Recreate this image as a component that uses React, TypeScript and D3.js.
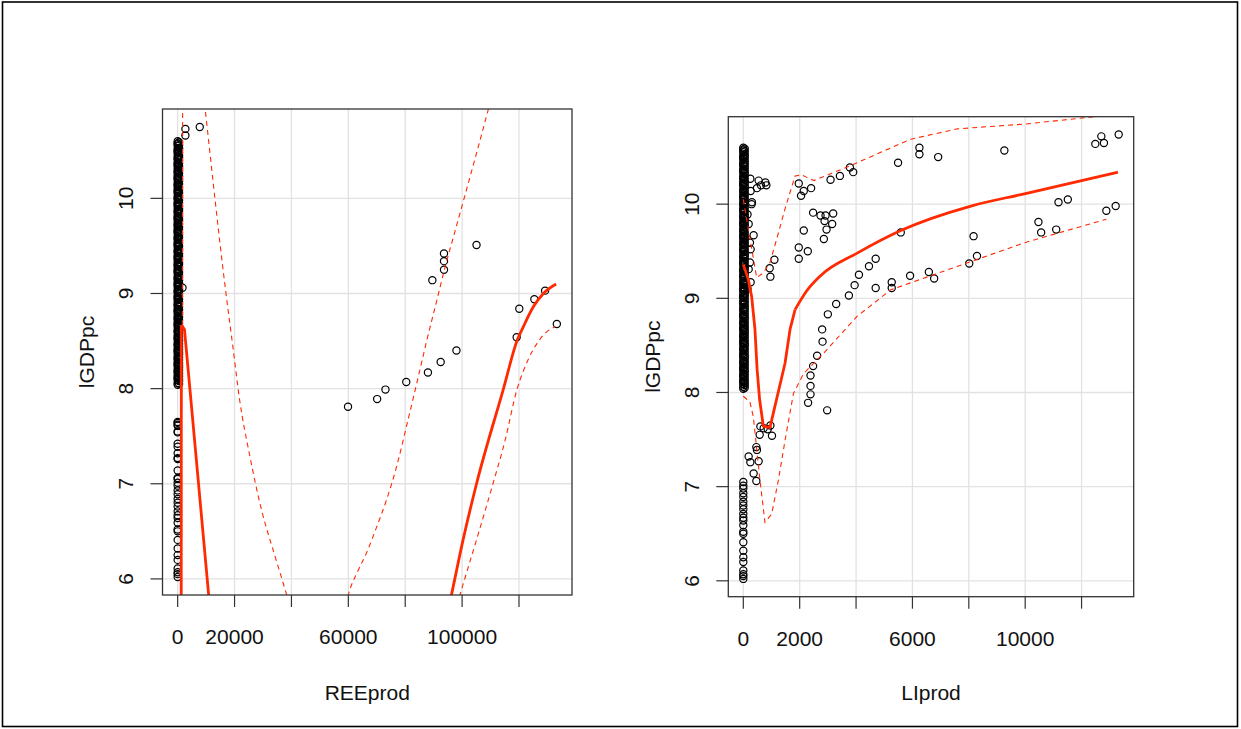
import React from "react";
import * as d3 from "d3";

// ---------- data ----------
const yTicks = [6, 7, 8, 9, 10];

const reeTicks = [0, 20000, 40000, 60000, 80000, 100000, 120000];
const reeTickLabels = ["0", "20000", "", "60000", "", "100000", ""];
const liTicks = [0, 2000, 4000, 6000, 8000, 10000, 12000];
const liTickLabels = ["0", "2000", "", "6000", "", "10000", ""];

// lGDPpc of observations with zero production – dense column
const zeroProdHighY = [
  10.6, 10.58, 10.57, 10.55, 10.52, 10.5, 10.49, 10.47, 10.44, 10.42, 10.41, 10.38, 10.36, 10.35, 10.33,
  10.3, 10.28, 10.27, 10.24, 10.22, 10.21, 10.19, 10.16, 10.14, 10.13, 10.1, 10.08, 10.07, 10.05, 10.02,
  10.0, 9.99, 9.96, 9.94, 9.93, 9.91, 9.88, 9.86, 9.85, 9.82, 9.8, 9.79, 9.77, 9.74, 9.72, 9.71, 9.68,
  9.66, 9.65, 9.63, 9.6, 9.58, 9.57, 9.54, 9.52, 9.51, 9.49, 9.46, 9.44, 9.43, 9.4, 9.38, 9.37, 9.35,
  9.32, 9.3, 9.29, 9.26, 9.24, 9.23, 9.21, 9.18, 9.16, 9.15, 9.12, 9.1, 9.09, 9.07, 9.04, 9.02, 9.01,
  8.98, 8.96, 8.95, 8.93, 8.9, 8.88, 8.87, 8.84, 8.82, 8.81, 8.79, 8.76, 8.74, 8.73, 8.7, 8.68, 8.67,
  8.65, 8.62, 8.6, 8.59, 8.56, 8.54, 8.53, 8.51, 8.48, 8.46, 8.45, 8.42, 8.4, 8.39, 8.37, 8.34, 8.32,
  8.31, 8.28, 8.26, 8.25, 8.23, 8.2, 8.18, 8.17, 8.14, 8.12, 8.11, 8.09, 8.06, 8.04,
];
// lGDPpc of observations with very small production (just right of zero)
const tinyProdHighY = [
  10.59, 10.56, 10.53, 10.51, 10.48, 10.45, 10.43, 10.4, 10.37, 10.34, 10.32, 10.29, 10.26, 10.23,
  10.2, 10.18, 10.15, 10.12, 10.09, 10.06, 10.03, 10.01, 9.98, 9.95, 9.92, 9.89, 9.87, 9.84, 9.81,
  9.78, 9.76, 9.73, 9.7, 9.67, 9.64, 9.62, 9.59, 9.56, 9.53, 9.5, 9.47, 9.45, 9.42, 9.39, 9.36, 9.33,
  9.31, 9.28, 9.25, 9.22, 9.19, 9.17, 9.14, 9.11, 9.08, 9.05, 9.03, 9.0, 8.97, 8.94, 8.91, 8.89, 8.86,
  8.83, 8.8, 8.78, 8.75, 8.72, 8.69, 8.66, 8.64, 8.61, 8.58, 8.55, 8.52, 8.5, 8.47, 8.44, 8.41, 8.38,
  8.36, 8.33, 8.3, 8.27, 8.24, 8.22, 8.19, 8.16, 8.13, 8.1, 8.08, 8.05,
];
const zeroProdLowY = [
  7.05, 7.01, 6.98, 6.93, 6.89, 6.84, 6.8, 6.76, 6.71, 6.67, 6.64, 6.59, 6.52, 6.5, 6.41, 6.32, 6.25,
  6.2, 6.11, 6.07, 6.05, 6.02,
];
// observations with zero REE production but positive LI production (low income group)
const reeZeroMidY = [7.65, 7.64, 7.62, 7.61, 7.55, 7.54, 7.42, 7.39, 7.32, 7.27, 7.26, 7.14, 7.06];

// REE producers: [REEprod, lGDPpc]
const reePoints: [number, number][] = [
  [2718, 10.73], [2718, 10.66], [7765, 10.75], [1700, 9.06], [89541, 9.14], [93635, 9.42],
  [93635, 9.34], [93635, 9.25], [105071, 9.51], [120106, 8.84], [125400, 8.94], [129176, 9.03],
  [119188, 8.54], [133306, 8.68], [98012, 8.4], [92471, 8.28], [87988, 8.17], [80365, 8.07],
  [73059, 7.99], [70130, 7.89], [59894, 7.81],
];

// LI producers: [LIprod, lGDPpc]
const liPoints: [number, number][] = [
  [249, 10.27], [544, 10.25], [783, 10.23], [818, 10.2], [484, 10.17], [626, 10.2], [306, 10.02],
  [366, 9.67], [1967, 10.22], [2145, 10.14], [2405, 10.17], [2049, 10.09], [3095, 10.26],
  [3426, 10.3], [3782, 10.39], [3899, 10.34], [5490, 10.44], [6247, 10.6], [6247, 10.53],
  [6913, 10.5], [9261, 10.57], [12488, 10.64], [12701, 10.72], [12794, 10.65], [13317, 10.74],
  [2476, 9.91], [2739, 9.88], [2917, 9.88], [3188, 9.9], [2882, 9.82], [3152, 9.79], [2953, 9.73],
  [2857, 9.63], [2145, 9.72], [1967, 9.54], [2288, 9.5], [1967, 9.42], [1103, 9.41], [936, 9.32],
  [961, 9.23], [5586, 9.7], [8169, 9.66], [8290, 9.45], [8015, 9.37], [4696, 9.42], [4458, 9.34],
  [4102, 9.25], [3949, 9.14], [3746, 9.03], [4696, 9.11], [5265, 9.17], [5265, 9.11], [5917, 9.24],
  [6582, 9.28], [6770, 9.21], [3294, 8.94], [2999, 8.83], [2796, 8.67], [2811, 8.54], [2618, 8.39],
  [2476, 8.28], [2384, 8.18], [2384, 8.07], [2384, 7.98], [2298, 7.89], [2974, 7.81], [605, 7.64],
  [722, 7.62], [961, 7.65], [865, 7.61], [1017, 7.54], [580, 7.55], [462, 7.42], [484, 7.39],
  [189, 7.32], [249, 7.26], [544, 7.27], [366, 7.14], [462, 7.06], [10470, 9.81], [10566, 9.7],
  [11100, 9.73], [11182, 10.02], [11513, 10.05], [12879, 9.93], [13210, 9.98], [260, 10.14],
  [295, 10.0], [235, 9.59], [235, 9.38], [150, 9.89], [190, 9.79], [260, 9.52], [190, 9.31],
  [260, 9.17], [150, 9.1],
];

// fitted curves and confidence bands (REE panel)
const reeFitA1: [number, number][] = [[1250, 5.6], [1300, 8.67]];
const reeFitA2: [number, number][] = [[1300, 8.67], [2400, 8.62], [11300, 5.7]];
const reeFitB: [number, number][] = [
  [94600, 5.6], [96247, 5.83], [100341, 6.41], [105071, 7.0], [114459, 7.99], [119400, 8.51],
  [121518, 8.65], [125047, 8.86], [128576, 9.0], [133059, 9.1],
];
const reeBandA1: [number, number][] = [[1650, 8.67], [1750, 11.05]];
const reeBandA2: [number, number][] = [
  [9400, 11.0], [9645, 10.94], [11229, 10.51], [12989, 10.03], [14749, 9.56], [16861, 9.03],
  [19325, 8.46], [21789, 7.88], [25309, 7.3], [29533, 6.72], [34109, 6.25], [38333, 5.83],
  [39000, 5.76],
];
const reeBandB1: [number, number][] = [
  [59100, 5.72], [59981, 5.83], [63325, 6.08], [66493, 6.28], [70013, 6.55], [73533, 6.84],
  [77053, 7.19], [80573, 7.62], [84093, 8.06], [87613, 8.51], [91133, 8.93], [93949, 9.27],
  [97469, 9.65], [100989, 10.03], [105213, 10.49], [109261, 10.94], [109789, 11.0],
];
const reeBandB2: [number, number][] = [
  [98173, 5.72], [99229, 5.83], [104861, 6.39], [110845, 7.0], [115069, 7.45], [119187, 7.98],
  [123165, 8.3], [126685, 8.49], [129853, 8.6], [132669, 8.65],
];

// fitted curve and confidence band (LI panel)
const liFitLeft: [number, number][] = [
  [0, 9.36], [178, 9.2], [295, 9.02], [413, 8.67], [491, 8.24], [580, 7.92], [712, 7.64],
  [946, 7.63], [1480, 8.31], [1658, 8.67], [1836, 8.88],
];
const liFitRight: [number, number][] = [
  [1836, 8.88], [2252, 9.08], [2739, 9.24], [4042, 9.48], [5586, 9.72], [8076, 9.98], [9972, 10.11],
  [13290, 10.34],
];
const liBandUpper: [number, number][] = [
  [0, 10.05], [473, 9.22], [712, 9.27], [946, 9.38], [1185, 9.63], [1480, 9.95], [1836, 10.3],
  [2074, 10.31], [2501, 10.25], [3807, 10.41], [5941, 10.69], [7599, 10.8], [9972, 10.85],
  [12818, 10.94], [13290, 10.97],
];
const liBandLower: [number, number][] = [
  [0, 7.96], [235, 7.9], [356, 7.74], [591, 7.07], [768, 6.62], [1007, 6.71], [1245, 7.07],
  [1480, 7.49], [1779, 7.99], [2135, 8.2], [2857, 8.42], [4042, 8.81], [5230, 9.09], [7599, 9.34],
  [9972, 9.59], [12879, 9.84],
];

// ---------- drawing ----------
const FONT = "'Liberation Sans', Arial, Helvetica, sans-serif";
const RED = "#ff2a00";

type Box = { left: number; top: number; right: number; bottom: number };
type Series = { pts: [number, number][]; smooth: boolean };

function Panel(props: {
  id: string;
  box: Box;
  points: [number, number][];
  xTicks: number[];
  xTickLabels: string[];
  xTitle: string;
  solid: Series[];
  dashed: Series[];
}) {
  const { id, box, points, xTicks, xTickLabels, xTitle, solid, dashed } = props;
  const xe = d3.extent(points, (d) => d[0]) as [number, number];
  const ye = d3.extent(points, (d) => d[1]) as [number, number];
  const xr = xe[1] - xe[0];
  const yr = ye[1] - ye[0];
  const x = d3.scaleLinear().domain([xe[0] - 0.04 * xr, xe[1] + 0.04 * xr]).range([box.left, box.right]);
  const y = d3.scaleLinear().domain([ye[0] - 0.04 * yr, ye[1] + 0.04 * yr]).range([box.bottom, box.top]);
  const mk = (s: Series) =>
    d3
      .line<[number, number]>()
      .x((d) => x(d[0]))
      .y((d) => y(d[1]))
      .curve(s.smooth ? d3.curveMonotoneX : d3.curveLinear)(s.pts) || "";
  const cx = (box.left + box.right) / 2;
  const cy = (box.top + box.bottom) / 2;
  return (
    <g>
      <defs>
        <clipPath id={id}>
          <rect x={box.left} y={box.top} width={box.right - box.left} height={box.bottom - box.top} />
        </clipPath>
      </defs>
      <g stroke="#e2e2e2" strokeWidth={1.3}>
        {xTicks.map((t) => (
          <line key={"gx" + t} x1={x(t)} x2={x(t)} y1={box.top} y2={box.bottom} />
        ))}
        {yTicks.map((t) => (
          <line key={"gy" + t} x1={box.left} x2={box.right} y1={y(t)} y2={y(t)} />
        ))}
      </g>
      <g clipPath={`url(#${id})`} fill="none" stroke="#000" strokeWidth={1.2}>
        {points.map((d, i) => (
          <circle key={i} cx={x(d[0])} cy={y(d[1])} r={3.6} />
        ))}
      </g>
      <g clipPath={`url(#${id})`} fill="none" stroke={RED}>
        {dashed.map((s, i) => (
          <path key={"d" + i} d={mk(s)} strokeWidth={1.1} strokeDasharray="5,4" />
        ))}
        {solid.map((s, i) => (
          <path key={"s" + i} d={mk(s)} strokeWidth={2.8} strokeLinejoin="round" />
        ))}
      </g>
      <rect
        x={box.left}
        y={box.top}
        width={box.right - box.left}
        height={box.bottom - box.top}
        fill="none"
        stroke="#333"
        strokeWidth={1.3}
      />
      <g stroke="#333" strokeWidth={1.2}>
        {xTicks.map((t) => (
          <line key={"tx" + t} x1={x(t)} x2={x(t)} y1={box.bottom} y2={box.bottom + 12} />
        ))}
        {yTicks.map((t) => (
          <line key={"ty" + t} x1={box.left - 12} x2={box.left} y1={y(t)} y2={y(t)} />
        ))}
      </g>
      <g fontFamily={FONT} fontSize={21} fill="#111">
        {xTicks.map((t, i) =>
          xTickLabels[i] ? (
            <text key={"lx" + t} x={x(t)} y={box.bottom + 49} textAnchor="middle">
              {xTickLabels[i]}
            </text>
          ) : null
        )}
        {yTicks.map((t) => (
          <text
            key={"ly" + t}
            transform={`translate(${box.left - 37},${y(t)}) rotate(-90)`}
            dy="0.35em"
            textAnchor="middle"
          >
            {t}
          </text>
        ))}
        <text x={cx} y={700} textAnchor="middle">
          {xTitle}
        </text>
        <text transform={`translate(${box.left - 76},${cy}) rotate(-90)`} dy="0.35em" textAnchor="middle">
          lGDPpc
        </text>
      </g>
    </g>
  );
}

export default function App() {
  const reeAll: [number, number][] = [
    ...zeroProdHighY.map((v) => [0, v] as [number, number]),
    ...tinyProdHighY.map((v) => [500, v] as [number, number]),
    ...zeroProdLowY.map((v) => [0, v] as [number, number]),
    ...reeZeroMidY.map((v) => [0, v] as [number, number]),
    ...reePoints,
  ];
  const liAll: [number, number][] = [
    ...zeroProdHighY.map((v) => [0, v] as [number, number]),
    ...tinyProdHighY.map((v) => [50, v] as [number, number]),
    ...zeroProdLowY.map((v) => [0, v] as [number, number]),
    ...liPoints,
  ];
  return (
    <svg width={1241} height={729} style={{ position: "absolute", left: 0, top: 0, background: "#fff" }}>
      <rect x={0} y={0} width={1241} height={729} fill="#fff" />
      <rect x={2.5} y={2} width={1235} height={724.5} fill="none" stroke="#000" strokeWidth={1.6} />
      <Panel
        id="clipRee"
        box={{ left: 162.5, top: 109, right: 572, bottom: 595 }}
        points={reeAll}
        xTicks={reeTicks}
        xTickLabels={reeTickLabels}
        xTitle="REEprod"
        solid={[
          { pts: reeFitA1, smooth: false },
          { pts: reeFitA2, smooth: false },
          { pts: reeFitB, smooth: true },
        ]}
        dashed={[
          { pts: reeBandA1, smooth: false },
          { pts: reeBandA2, smooth: true },
          { pts: reeBandB1, smooth: true },
          { pts: reeBandB2, smooth: true },
        ]}
      />
      <Panel
        id="clipLi"
        box={{ left: 728.3, top: 116.7, right: 1133.7, bottom: 596.7 }}
        points={liAll}
        xTicks={liTicks}
        xTickLabels={liTickLabels}
        xTitle="LIprod"
        solid={[
          { pts: liFitLeft, smooth: false },
          { pts: liFitRight, smooth: true },
        ]}
        dashed={[
          { pts: liBandUpper, smooth: false },
          { pts: liBandLower, smooth: false },
        ]}
      />
    </svg>
  );
}
